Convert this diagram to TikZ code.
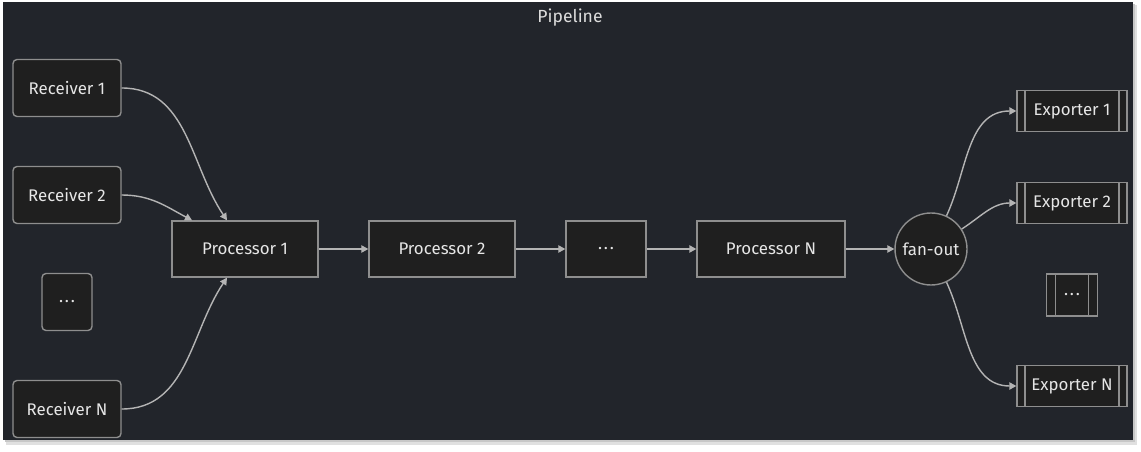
\documentclass[tikz,border=0pt]{standalone}
\usepackage{fontspec}
\newfontfamily\labelfont{Fira Sans}
\usetikzlibrary{arrows.meta}
\definecolor{panelbg}{HTML}{22252B}
\definecolor{boxfill}{HTML}{1F1F1F}
\definecolor{boxline}{HTML}{8E8E8E}
\definecolor{edgeline}{HTML}{B4B4B4}
\definecolor{labeltext}{HTML}{E6E6E6}
\tikzset{
  box/.style={draw=boxline, fill=boxfill, line width=0.8pt, inner sep=0pt,
    text=labeltext, font=\labelfont\fontsize{9.6}{11}\selectfont},
  recv/.style={box, rounded corners=0.08cm, minimum width=2.16cm, minimum height=1.14cm},
  proc/.style={box, minimum width=2.92cm, minimum height=1.12cm},
  fanout/.style={box, circle, minimum size=1.44cm},
  expo/.style={box, minimum width=2.2cm, minimum height=0.82cm,
    path picture={
      \draw[boxline, line width=0.8pt]
        ([xshift=#1]path picture bounding box.north west) -- ([xshift=#1]path picture bounding box.south west)
        ([xshift=-#1]path picture bounding box.north east) -- ([xshift=-#1]path picture bounding box.south east);
    }},
  expo/.default=0.16cm,
  link/.style={draw=edgeline, line width=0.8pt, -{Triangle[length=4pt,width=4.2pt]}},
}
\begin{document}
\begin{tikzpicture}[x=0.02cm, y=0.02cm]
\useasboundingbox (0,0) rectangle (1141,-452);
% frame
\fill[white] (0,0) rectangle (1141,-452);
\fill[black!12] (6,-5) rectangle (1137,-445);
\fill[black!22] (5,-4) rectangle (1135,-442);
\fill[panelbg] (3,-2) rectangle (1133,-440);
\node[text=labeltext!90!gray, font=\labelfont\fontsize{10}{12}\selectfont] (title) at (570,-18) {Pipeline};
% receivers
\node[recv] (r1) at (67,-88) {Receiver 1};
\node[recv] (r2) at (67,-195) {Receiver 2};
\node[recv, minimum width=1.0cm] (rd) at (67,-302) {.\kern1pt.\kern1pt.};
\node[recv] (rN) at (67,-409) {Receiver N};
% processors
\node[proc] (p1) at (245,-249) {Processor 1};
\node[proc] (p2) at (442,-249) {Processor 2};
\node[proc, minimum width=1.6cm] (pd) at (606,-249) {.\kern1pt.\kern1pt.};
\node[proc, minimum width=2.96cm] (pN) at (771,-249) {Processor N};
\node[fanout] (fan) at (931,-249) {fan-out};
% exporters
\node[expo] (e1) at (1072,-111) {Exporter 1};
\node[expo] (e2) at (1072,-203) {Exporter 2};
\node[expo=0.18cm, minimum width=1.02cm, minimum height=0.84cm] (ed) at (1072,-295) {.\kern1pt.\kern1pt.};
\node[expo] (eN) at (1072,-386) {Exporter N};
% edges
\draw[link] (r1.east) to[out=0, in=124] ([xshift=-0.36cm]p1.north);
\draw[link] (r2.east) to[out=0, in=152] ([xshift=-1.06cm]p1.north);
\draw[link] (rN.east) to[out=0, in=-124] ([xshift=-0.36cm]p1.south);
\draw[link] (p1) -- (p2);
\draw[link] (p2) -- (pd);
\draw[link] (pd) -- (pN);
\draw[link] (pN) -- (fan);
\draw[link] (fan) to[out=65, in=180] (e1.west);
\draw[link] (fan) to[out=33, in=180] (e2.west);
\draw[link] (fan) to[out=-65, in=180] (eN.west);
\end{tikzpicture}
\end{document}
